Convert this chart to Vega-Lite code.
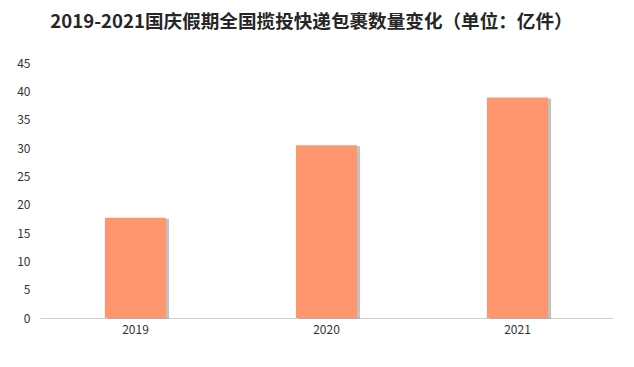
{
  "$schema": "https://vega.github.io/schema/vega-lite/v6.json",
  "autosize": {"type": "none"},
  "width": 573,
  "height": 255,
  "padding": {"left": 40, "top": 63, "right": 21, "bottom": 49},
  "background": "white",
  "title": {
    "text": "2019-2021国庆假期全国揽投快递包裹数量变化（单位：亿件）",
    "font": "Noto Sans CJK SC",
    "fontSize": 18.6,
    "fontWeight": "bold",
    "color": "#262626",
    "anchor": "middle",
    "dx": -15,
    "offset": 25
  },
  "data": {
    "values": [
      {"year": "2019", "value": 17.7},
      {"year": "2020", "value": 30.5},
      {"year": "2021", "value": 38.9}
    ]
  },
  "encoding": {
    "x": {
      "field": "year",
      "type": "nominal",
      "sort": null,
      "scale": {"paddingInner": 0.68, "paddingOuter": 0.34},
      "axis": {
        "title": null,
        "labelAngle": 0,
        "ticks": false,
        "domainColor": "#d0d0d0",
        "labelFont": "Noto Sans CJK SC",
        "labelFontSize": 12,
        "labelColor": "#333333",
        "labelPadding": 6
      }
    },
    "y": {
      "field": "value",
      "type": "quantitative",
      "scale": {"domain": [0, 45]},
      "axis": {
        "title": null,
        "values": [0, 5, 10, 15, 20, 25, 30, 35, 40, 45],
        "grid": false,
        "domain": false,
        "ticks": false,
        "labelFont": "Noto Sans CJK SC",
        "labelFontSize": 12,
        "labelColor": "#333333",
        "labelPadding": 10
      }
    }
  },
  "layer": [
    {
      "mark": {"type": "bar", "color": "#8f8f8f", "opacity": 0.55, "xOffset": 3, "yOffset": 1}
    },
    {
      "mark": {"type": "bar", "color": "#FF9670"}
    }
  ],
  "config": {"view": {"stroke": null}}
}
